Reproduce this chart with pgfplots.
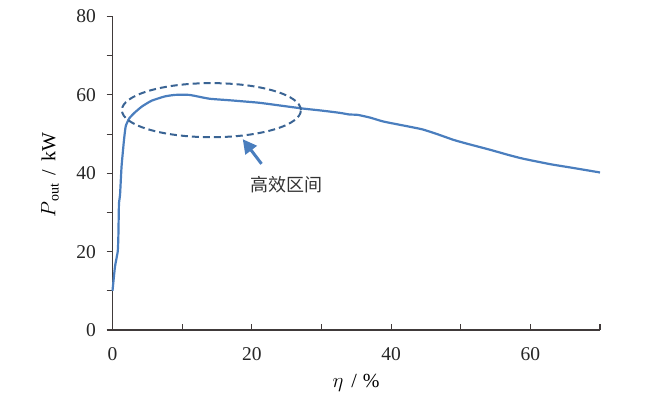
\documentclass[border=0pt]{standalone}
\usepackage{pgfplots}
\pgfplotsset{compat=1.18}
\usetikzlibrary{arrows.meta}
\usepackage{fontspec}
\setmainfont{Liberation Serif}
\newfontfamily\cjk{Noto Sans CJK SC}
\definecolor{curve}{RGB}{74,126,190}
\definecolor{ell}{RGB}{58,100,148}
\definecolor{axc}{RGB}{64,58,58}
\begin{document}
\begin{tikzpicture}[x=1pt,y=1pt]
\useasboundingbox (0,0) rectangle (650,399);
\begin{axis}[
  at={(112.5pt,69pt)}, anchor=origin,
  scale only axis, width=487.5pt, height=313.5pt,
  xmin=0, xmax=70, ymin=0, ymax=80,
  axis x line*=bottom, axis y line*=left,
  axis line style={axc, line width=1.3pt, -},
  xtick={0,10,...,70}, xticklabels={0,,20,,40,,60,},
  ytick={0,10,...,80}, yticklabels={0,,20,,40,,60,,80},
  tick align=center, major tick length=6pt,
  tick style={axc, line width=1.1pt},
  xtick style={yshift=3pt}, ytick style={xshift=-3pt},
  /pgf/number format/assume math mode=true,
  ticklabel style={font=\fontsize{19.5}{21}\selectfont, text=black!85},
  xticklabel style={yshift=-11pt},
  yticklabel style={xshift=-10pt},
  clip=false,
]
\addplot[curve, line width=2.2pt, smooth, tension=0.3] coordinates {
(0,10) (0.36,16.2) (0.75,20) (0.84,23.8) (0.93,32.4) (1.08,34.4) (1.3,41.7) (1.65,48.5) (1.9,52) (2.4,54) (3.2,55.5) (4.2,57) (5.6,58.5) (7.5,59.6) (9,60) (11,60) (12.5,59.5) (14,59) (17,58.6) (21,58) (24,57.3) (27.4,56.5) (30,56) (32.7,55.4) (34,55) (35.2,54.9) (37,54.2) (38.9,53.2) (42.3,52) (44.5,51.2) (46.6,50) (49,48.5) (51,47.5) (54.2,46) (57,44.6) (59,43.7) (62.9,42.3) (66,41.4) (70,40.2)
};
\draw[ell, line width=2pt, dash pattern=on 7pt off 4pt] (axis cs:14.2,56.1) ellipse [x radius=12.85, y radius=6.9];
\draw[curve, line width=3pt, -{Triangle[length=14pt,width=14pt]}] (axis cs:21.4,42.4) -- (axis cs:18.7,48.7);
\node[font=\cjk\fontsize{18}{20}\selectfont, text=black!80] at (axis cs:25,37.2) {高效区间};
\end{axis}
\node[rotate=90, font=\fontsize{20}{22}\selectfont] at (50,224) {$P$\textsubscript{out}\hspace{0.4em}/\hspace{0.4em}kW};
\node[font=\fontsize{20}{22}\selectfont] at (356,16) {$\eta$\hspace{0.4em}/\hspace{0.3em}\%};
\end{tikzpicture}
\end{document}
